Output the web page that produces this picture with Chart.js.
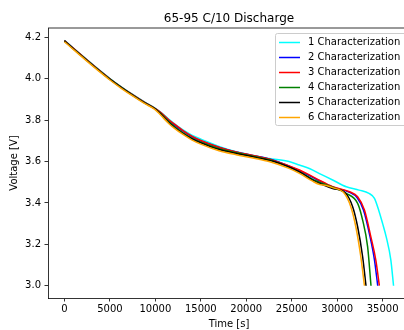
<!DOCTYPE html>
<html>
<head>
<meta charset="utf-8">
<script src="https://cdn.jsdelivr.net/npm/chart.js@4.4.0/dist/chart.umd.min.js"></script>
<style>
  html, body { margin: 0; padding: 0; overflow: hidden; background: #fff; width: 404px; height: 330px; }
  canvas { display: block; }
</style>
</head>
<body>
<canvas id="c" width="420" height="330"></canvas>
<script>
// Discharge runs: elapsed time [s] and cell voltage [V]
const seriesNames = ['1 Characterization', '2 Characterization', '3 Characterization',
                     '4 Characterization', '5 Characterization', '6 Characterization'];

const time1 = [0, 1250, 2500, 3750, 5000, 6250, 7500, 8750, 10000, 10500, 11000, 11500, 12000, 13000, 14000, 15200, 17000, 18900, 21000, 22500, 24700, 25850, 27000, 28000, 29500, 31000, 32400, 33500, 34100, 34600, 35000, 35400, 35900, 36200];
const volt1 = [4.186, 4.138, 4.091, 4.045, 4.001, 3.961, 3.924, 3.889, 3.857, 3.841, 3.823, 3.804, 3.786, 3.754, 3.728, 3.705, 3.673, 3.647, 3.628, 3.615, 3.600, 3.583, 3.565, 3.543, 3.511, 3.478, 3.462, 3.446, 3.422, 3.360, 3.300, 3.235, 3.125, 3.0];

const time2 = [0, 1250, 2500, 3750, 5000, 6250, 7500, 8750, 10000, 10500, 11000, 11500, 12000, 13000, 14000, 15000, 17000, 19000, 21000, 23000, 25850, 27600, 29500, 31300, 32200, 32900, 33600, 34100, 34460];
const volt2 = [4.184, 4.136, 4.089, 4.043, 3.999, 3.959, 3.922, 3.887, 3.855, 3.838, 3.818, 3.798, 3.780, 3.748, 3.720, 3.699, 3.668, 3.645, 3.627, 3.607, 3.556, 3.517, 3.477, 3.452, 3.425, 3.365, 3.240, 3.125, 3.0];

const time3 = [0, 1250, 2500, 3750, 5000, 6250, 7500, 8750, 10000, 10500, 11000, 11500, 12000, 13000, 14000, 15000, 17000, 19000, 21000, 22900, 25850, 27650, 29500, 31350, 32250, 33000, 33700, 34250, 34640];
const volt3 = [4.185, 4.137, 4.090, 4.044, 4.000, 3.960, 3.923, 3.888, 3.856, 3.840, 3.821, 3.801, 3.784, 3.751, 3.723, 3.702, 3.669, 3.645, 3.627, 3.607, 3.559, 3.519, 3.478, 3.454, 3.430, 3.366, 3.237, 3.124, 3.0];

const time4 = [0, 1250, 2500, 3750, 5000, 6250, 7500, 8750, 10000, 10500, 11000, 11500, 12000, 13000, 14000, 15000, 17000, 19000, 21000, 23000, 25850, 27500, 29500, 31000, 32250, 32800, 33350, 33720];
const volt4 = [4.183, 4.135, 4.088, 4.042, 3.998, 3.958, 3.921, 3.886, 3.854, 3.835, 3.813, 3.792, 3.773, 3.740, 3.713, 3.693, 3.662, 3.641, 3.623, 3.602, 3.550, 3.510, 3.476, 3.446, 3.398, 3.317, 3.188, 3.0];

const time5 = [0, 1250, 2500, 3750, 5000, 6250, 7500, 8750, 10000, 10500, 11000, 11500, 12000, 13000, 14000, 15000, 17000, 19000, 21000, 23000, 25850, 27300, 28000, 29500, 30950, 31700, 32250, 32800, 33170];
const volt5 = [4.182, 4.134, 4.087, 4.041, 3.997, 3.957, 3.920, 3.885, 3.853, 3.833, 3.809, 3.787, 3.768, 3.736, 3.710, 3.690, 3.658, 3.638, 3.620, 3.600, 3.550, 3.510, 3.495, 3.470, 3.446, 3.382, 3.285, 3.140, 3.0];

const time6 = [0, 1250, 2500, 3750, 5000, 6250, 7500, 8750, 10000, 10500, 11000, 11500, 12000, 13000, 14000, 15000, 17000, 19000, 21000, 22500, 24700, 25850, 27300, 28000, 28800, 29500, 30800, 31500, 32050, 32600, 33000];
const volt6 = [4.179, 4.131, 4.084, 4.038, 3.994, 3.954, 3.917, 3.882, 3.850, 3.829, 3.805, 3.783, 3.764, 3.732, 3.705, 3.684, 3.652, 3.632, 3.615, 3.600, 3.567, 3.543, 3.505, 3.490, 3.484, 3.474, 3.446, 3.382, 3.285, 3.140, 3.0];

const xTicks = [0, 5000, 10000, 15000, 20000, 25000, 30000, 35000];
const yTicks = [3.0, 3.2, 3.4, 3.6, 3.8, 4.0, 4.2];

const times = [time1, time2, time3, time4, time5, time6];
const volts = [volt1, volt2, volt3, volt4, volt5, volt6];
const lineColors = ['#00ffff', '#0000ff', '#ff0000', '#008000', '#000000', '#ffa500'];

const FONT = "'DejaVu Sans', sans-serif";

const datasets = seriesNames.map((name, i) => ({
  label: name,
  data: times[i].map((t, k) => ({ x: t, y: volts[i][k] })),
  borderColor: lineColors[i],
  backgroundColor: lineColors[i],
  borderWidth: 1.5,
  pointRadius: 0,
  fill: false,
  cubicInterpolationMode: 'monotone',
  order: seriesNames.length - i   // later runs sit on top
}));

// axis limits with a 5% margin around the data
const allT = times.flat(), allV = volts.flat();
const tMin = Math.min(...allT), tMax = Math.max(...allT);
const vMin = Math.min(...allV), vMax = Math.max(...allV);
const xMin = tMin - 0.05 * (tMax - tMin), xMax = tMax + 0.05 * (tMax - tMin);
const yMin = vMin - 0.05 * (vMax - vMin), yMax = vMax + 0.05 * (vMax - vMin);

const decor = {
  id: 'decor',
  afterDraw(chart) {
    const { ctx, chartArea: a } = chart;
    ctx.save();
    // top and right spines
    ctx.strokeStyle = '#000';
    ctx.lineWidth = 0.8;
    ctx.beginPath();
    ctx.moveTo(a.left, a.top);
    ctx.lineTo(a.right, a.top);
    ctx.lineTo(a.right, a.bottom);
    ctx.stroke();

    // title
    ctx.fillStyle = '#000';
    ctx.font = '12px ' + FONT;
    ctx.textAlign = 'center';
    ctx.textBaseline = 'alphabetic';
    ctx.fillText('65-95 C/10 Discharge', (a.left + a.right) / 2, a.top - 6);

    // legend in the upper right corner of the plot
    const bx = 275.5, by = 33.5, bw = 160, rowH = 15;
    const bh = rowH * seriesNames.length + 2;
    ctx.beginPath();
    ctx.roundRect(bx, by, bw, bh, 2);
    ctx.fillStyle = 'rgba(255,255,255,0.8)';
    ctx.fill();
    ctx.strokeStyle = '#cccccc';
    ctx.lineWidth = 1;
    ctx.stroke();
    ctx.font = '10px ' + FONT;
    ctx.textAlign = 'left';
    ctx.textBaseline = 'middle';
    chart.data.datasets.forEach((ds, i) => {
      const cy = by + 9 + i * rowH;
      ctx.strokeStyle = ds.borderColor;
      ctx.lineWidth = 1.5;
      ctx.beginPath();
      ctx.moveTo(bx + 3.5, cy);
      ctx.lineTo(bx + 24.5, cy);
      ctx.stroke();
      ctx.fillStyle = '#000';
      ctx.fillText(ds.label, bx + 32.5, cy);
    });
    ctx.restore();
  }
};

new Chart(document.getElementById('c'), {
  type: 'line',
  data: { datasets },
  options: {
    responsive: false,
    animation: false,
    devicePixelRatio: 1,
    layout: { padding: { top: 28, right: 10, left: 0, bottom: 0 } },
    plugins: {
      legend: { display: false },
      title: { display: false },
      tooltip: { enabled: false }
    },
    scales: {
      x: {
        type: 'linear',
        min: xMin,
        max: xMax,
        afterFit(scale) { scale.height = 32; },
        afterBuildTicks(scale) { scale.ticks = xTicks.map(v => ({ value: v })); },
        ticks: {
          color: '#000',
          font: { family: FONT, size: 10 },
          padding: 2,
          maxRotation: 0,
          autoSkip: false,
          callback: v => String(v)
        },
        grid: { display: true, drawOnChartArea: false, drawTicks: true, tickLength: 3.5, color: '#000', lineWidth: 0.8 },
        border: { display: true, color: '#000', width: 0.8 },
        title: { display: true, text: 'Time [s]', color: '#000', font: { family: FONT, size: 10 }, padding: { top: 0, bottom: 0 } }
      },
      y: {
        type: 'linear',
        min: yMin,
        max: yMax,
        afterFit(scale) { scale.width = 48; },
        afterBuildTicks(scale) { scale.ticks = yTicks.map(v => ({ value: v })); },
        ticks: {
          color: '#000',
          font: { family: FONT, size: 10 },
          padding: 3.5,
          autoSkip: false,
          callback: v => Number(v).toFixed(1)
        },
        grid: { display: true, drawOnChartArea: false, drawTicks: true, tickLength: 3.5, color: '#000', lineWidth: 0.8 },
        border: { display: true, color: '#000', width: 0.8 },
        title: { display: true, text: 'Voltage [V]', color: '#000', font: { family: FONT, size: 10 }, padding: { top: 8, bottom: 0 } }
      }
    }
  },
  plugins: [decor]
});
</script>
</body>
</html>
